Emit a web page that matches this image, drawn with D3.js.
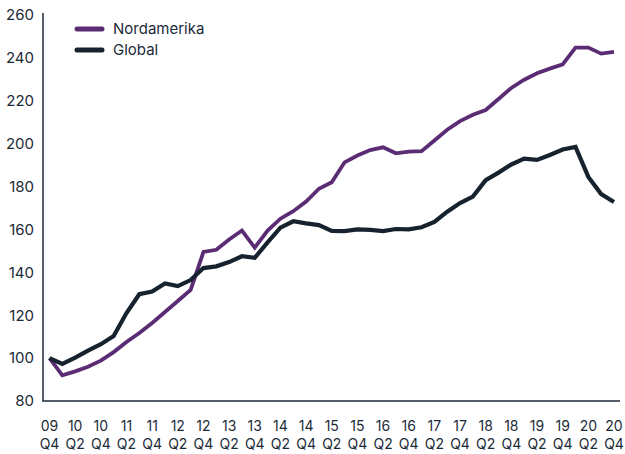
<!DOCTYPE html>
<html>
<head>
<meta charset="utf-8">
<script src="https://cdn.jsdelivr.net/npm/d3@7"></script>
<style>
  html, body { margin: 0; padding: 0; background: #fff; }
  svg { display: block; }
  text { font-family: "Inter", "Liberation Sans", sans-serif; fill: #1b2a38; }
</style>
</head>
<body>
<svg id="chart" width="625" height="454"></svg>
<script>
const quarters = [
  "09 Q4","10 Q1","10 Q2","10 Q3","10 Q4","11 Q1","11 Q2","11 Q3","11 Q4",
  "12 Q1","12 Q2","12 Q3","12 Q4","13 Q1","13 Q2","13 Q3","13 Q4",
  "14 Q1","14 Q2","14 Q3","14 Q4","15 Q1","15 Q2","15 Q3","15 Q4",
  "16 Q1","16 Q2","16 Q3","16 Q4","17 Q1","17 Q2","17 Q3","17 Q4",
  "18 Q1","18 Q2","18 Q3","18 Q4","19 Q1","19 Q2","19 Q3","19 Q4",
  "20 Q1","20 Q2","20 Q3","20 Q4"
];
const nordamerika = [
  100, 92, 93.8, 96, 98.8, 102.8, 107.5, 111.7, 116.4,
  121.5, 126.6, 131.8, 149.5, 150.5, 155.3, 159.5, 151.5,
  159.5, 165, 168.5, 173, 179, 182, 191.3, 194.5,
  197, 198.3, 195.5, 196.3, 196.5, 201.5, 206.5, 210.5,
  213.5, 215.7, 220.8, 226, 229.8, 232.8, 235, 237,
  244.8, 244.8, 242, 242.8
];
const globalIdx = [
  100, 97.3, 100.2, 103.5, 106.5, 110.3, 121, 129.8, 131,
  134.8, 133.6, 136.4, 142, 142.8, 144.8, 147.5, 146.8,
  154, 160.8, 163.8, 162.8, 162, 159.3, 159.2, 160,
  159.8, 159.2, 160.2, 160, 161, 163.5, 168.3, 172.3,
  175.3, 183, 186.5, 190.3, 193, 192.4, 194.7, 197.3,
  198.5, 184.5, 176.5, 172.8
];
const yTicks = [80, 100, 120, 140, 160, 180, 200, 220, 240, 260];
const xTickLabels = quarters.filter((d, i) => i % 2 === 0);
const seriesNames = ["Nordamerika", "Global"];
const seriesColors = ["#5b2c73", "#16232f"];

const svg = d3.select("#chart");
const x = d3.scalePoint().domain(quarters).range([49.5, 614]);
const y = d3.scaleLinear().domain([80, 260]).range([401, 15]);

// Axes lines
svg.append("line").attr("x1", 43).attr("x2", 43).attr("y1", 13).attr("y2", 401)
  .attr("stroke", "#1b2a38").attr("stroke-width", 1.5);
svg.append("line").attr("x1", 42.25).attr("x2", 620).attr("y1", 401).attr("y2", 401)
  .attr("stroke", "#1b2a38").attr("stroke-width", 1.5);

// Y axis labels
const yAxis = d3.axisLeft(y).tickValues(yTicks).tickSize(0).tickPadding(9);
const gy = svg.append("g").attr("transform", "translate(43,0)").call(yAxis);
gy.select(".domain").remove();
gy.selectAll("text").style("font-size", "15px").attr("fill", "#1b2a38")
  .style("font-family", "Inter, 'Liberation Sans', sans-serif");

// X axis labels (two lines, separate text elements)
const gx = svg.append("g");
xTickLabels.forEach(lbl => {
  const parts = lbl.split(" ");
  gx.append("text").attr("text-anchor", "middle")
    .attr("x", x(lbl)).attr("y", 431).style("font-size", "14px").text(parts[0]);
  gx.append("text").attr("text-anchor", "middle")
    .attr("x", x(lbl)).attr("y", 448.5).style("font-size", "14px").text(parts[1]);
});

// Lines
const line = d3.line().x((d, i) => x(quarters[i])).y(d => y(d)).curve(d3.curveLinear);
[nordamerika, globalIdx].forEach((vals, k) => {
  svg.append("path").datum(vals).attr("d", line)
    .attr("fill", "none").attr("stroke", seriesColors[k])
    .attr("stroke-width", k === 1 ? 4.2 : 3.8).attr("stroke-linejoin", "miter");
});

// Legend
const legend = svg.append("g");
seriesNames.forEach((name, k) => {
  const yy = 29 + k * 21;
  legend.append("line").attr("x1", 77).attr("x2", 102).attr("y1", yy).attr("y2", yy)
    .attr("stroke", seriesColors[k]).attr("stroke-width", 5).attr("stroke-linecap", "round");
  legend.append("text").attr("x", 113).attr("y", yy + 5).style("font-size", "15px").text(name);
});
</script>
</body>
</html>
